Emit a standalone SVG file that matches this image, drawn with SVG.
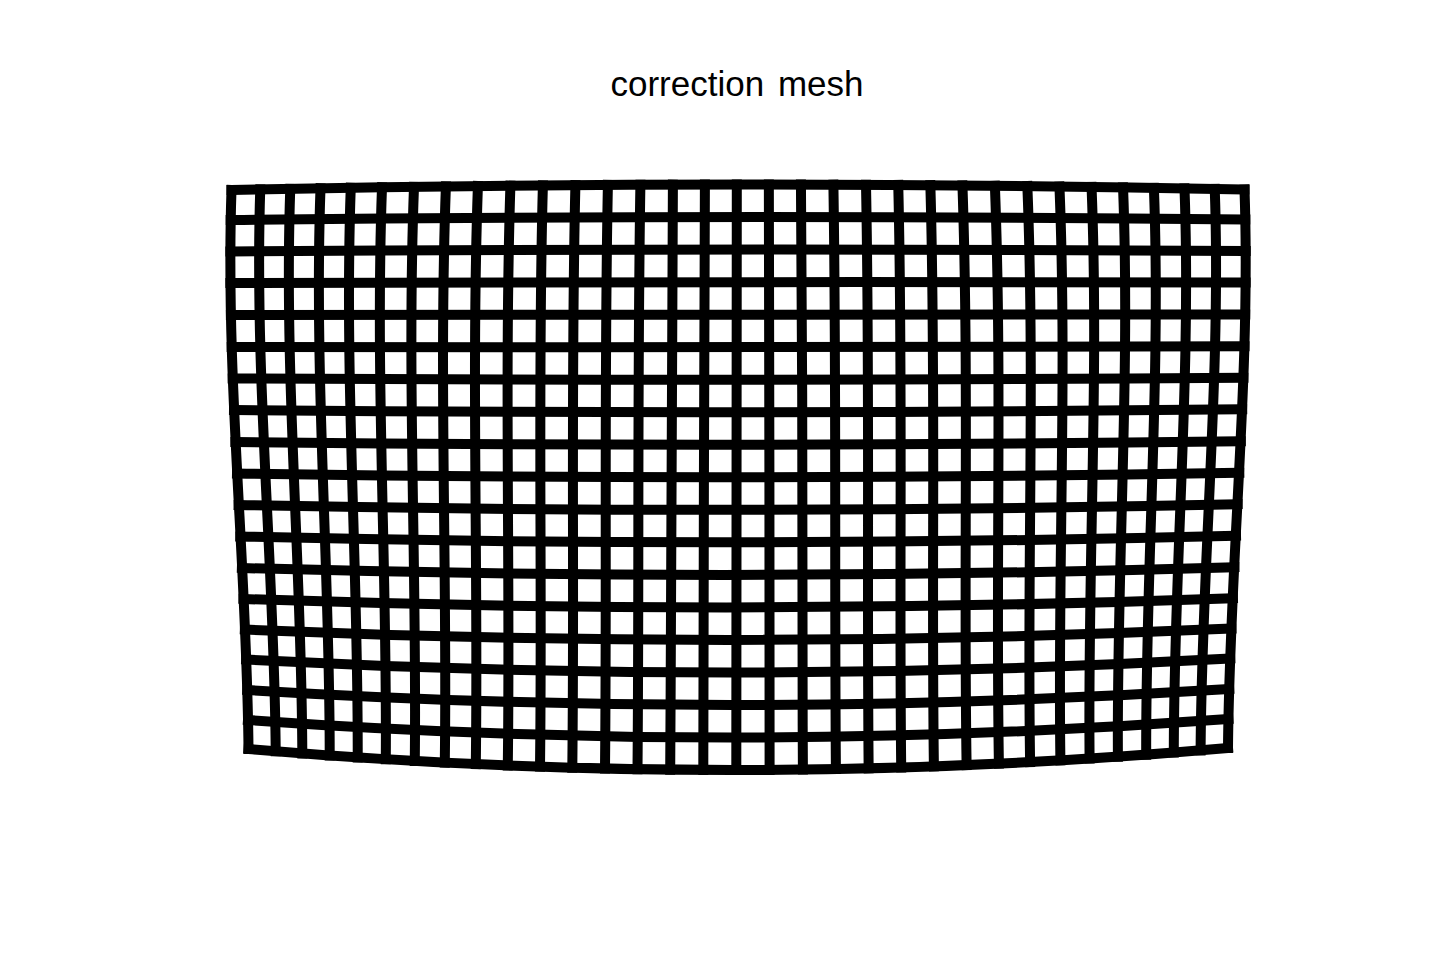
<svg xmlns="http://www.w3.org/2000/svg" width="1440" height="960" viewBox="0 0 1440 960">
<style>
.ln{fill:none;stroke:#000;stroke-width:10;stroke-linecap:square;stroke-linejoin:miter}
.title{font-family:"Liberation Sans","DejaVu Sans",sans-serif;font-size:35px;fill:#000}
</style>
<rect x="0" y="0" width="1440" height="960" fill="#fff"/>
<g id="title"><text class="title" x="737" y="96" text-anchor="middle" word-spacing="4">correction mesh</text></g>
<g id="mesh">
<g id="rows" class="ln">
<path d="M231.5 190 Q738 179.25 1244.5 189.5"/>
<path d="M230.7 220 Q738 214.26 1245.3 219.47"/>
<path d="M230.4 251.5 Q738.05 247.98 1245.7 250.94"/>
<path d="M230.4 283 Q738 281.49 1245.6 282.42"/>
<path d="M230.9 315 Q738.05 314.51 1245.2 314.39"/>
<path d="M231.7 347 Q738.1 347.72 1244.5 346.36"/>
<path d="M232.7 378.5 Q738.05 381.23 1243.4 377.83"/>
<path d="M234 410 Q738.1 414.75 1242.2 409.31"/>
<path d="M235.4 442 Q738.1 447.76 1240.8 441.28"/>
<path d="M237 473.5 Q738.15 481.47 1239.3 472.75"/>
<path d="M238.6 505 Q738.1 514.99 1237.6 504.22"/>
<path d="M240.3 536.5 Q738.15 548.5 1236 535.69"/>
<path d="M241.9 568 Q738.15 582.22 1234.4 567.17"/>
<path d="M243.5 599 Q738.2 616.23 1232.9 598.14"/>
<path d="M244.9 629.5 Q738.15 650.74 1231.4 628.61"/>
<path d="M246.2 659.5 Q738.2 685.96 1230.2 658.58"/>
<path d="M247.3 690 Q738.25 720.47 1229.2 689.06"/>
<path d="M248 720 Q738.2 755.49 1228.4 719.03"/>
<path d="M248.5 749 Q738.25 791.5 1228 748"/>
</g>
<g id="cols" class="ln">
<path d="M231.5 190 C225.17 376.33 246.83 562.67 248.5 749"/>
<path d="M260.25 189.41 C254.15 376.7 274.3 564 275.7 751.29"/>
<path d="M290.25 188.82 C283.77 377.02 301.78 565.21 302.3 753.41"/>
<path d="M320.5 188.27 C313.82 377.33 329.88 566.4 329.7 755.46"/>
<path d="M350.75 187.76 C344.07 377.64 358.38 567.53 357.7 757.41"/>
<path d="M382 187.27 C375.02 377.92 387.28 568.57 385.8 759.22"/>
<path d="M414 186.82 C406.77 378.2 417.03 569.58 414.8 760.96"/>
<path d="M445.9 186.39 C438.78 378.45 447.42 570.52 444.8 762.58"/>
<path d="M477.9 186.01 C471.2 378.7 478.5 571.4 475.8 764.09"/>
<path d="M510.4 185.67 C504.28 378.94 510.42 572.2 507.8 765.47"/>
<path d="M542.9 185.38 C537.43 379.15 542.47 572.91 540 766.68"/>
<path d="M575.4 185.12 C570.62 379.31 574.58 573.51 572.3 767.7"/>
<path d="M607.9 184.91 C603.93 379.46 606.97 574 605 768.55"/>
<path d="M640.4 184.74 C637.18 379.56 639.22 574.37 637.5 769.19"/>
<path d="M672.9 184.62 C670.5 379.63 671.6 574.65 670.2 769.66"/>
<path d="M704.9 184.54 C703.62 379.67 704.08 574.79 703.3 769.92"/>
<path d="M736.8 184.5 C736.63 379.67 736.47 574.83 736.3 770"/>
<path d="M768.85 184.5 C769.85 379.63 769.1 574.75 769.6 769.88"/>
<path d="M800.95 184.55 C803.1 379.55 801.75 574.56 802.9 769.56"/>
<path d="M833.4 184.64 C836.48 379.44 834.32 574.25 835.9 769.05"/>
<path d="M866 184.77 C869.88 379.3 866.77 573.82 868.65 768.35"/>
<path d="M898.25 184.95 C902.98 379.12 898.97 573.28 901.2 767.45"/>
<path d="M930.35 185.17 C936.03 378.9 931.22 572.64 933.9 766.37"/>
<path d="M962.45 185.42 C969.08 378.65 963.47 571.87 966.6 765.1"/>
<path d="M994.9 185.73 C1002.23 378.37 995.57 571.01 998.9 763.65"/>
<path d="M1027.35 186.07 C1035.02 378.07 1026.93 570.07 1030.1 762.07"/>
<path d="M1059.45 186.46 C1067.27 377.76 1057.58 569.07 1060.4 760.37"/>
<path d="M1091.55 186.89 C1099.15 377.45 1087.5 568.01 1089.6 758.57"/>
<path d="M1123.05 187.35 C1130.33 377.13 1116.62 566.92 1117.9 756.7"/>
<path d="M1153.9 187.84 C1161.08 376.78 1145.52 565.72 1146.2 754.66"/>
<path d="M1184.5 188.37 C1191.43 376.43 1173.87 564.48 1173.8 752.54"/>
<path d="M1214.75 188.93 C1221.28 376.08 1201.57 563.22 1200.6 750.37"/>
<path d="M1244.5 189.5 C1251 375.67 1229.5 561.83 1228 748"/>
</g>
</g>
</svg>
